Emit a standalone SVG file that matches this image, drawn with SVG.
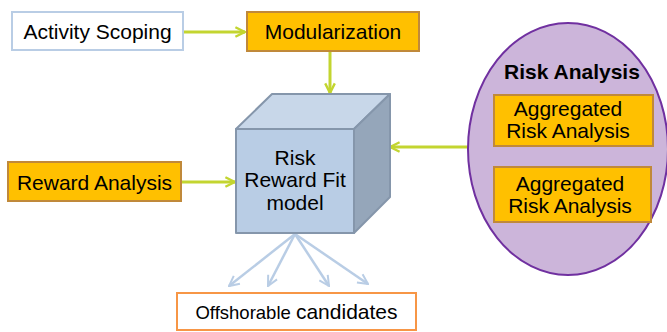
<svg xmlns="http://www.w3.org/2000/svg" width="667" height="332" viewBox="0 0 667 332">
  <style>
    text { font-family: "Liberation Sans", Arial, sans-serif; fill: #000; }
    .lbl { font-size: 21px; text-anchor: middle; }
    .orange { fill: #FFC000; stroke: #C0893A; stroke-width: 2; }
    .flow { stroke: #C3D530; stroke-width: 3; fill: none; }
    .out { stroke: #B9CDE5; stroke-width: 2.5; fill: none; }
  </style>
  <defs>
    <marker id="headGreen" viewBox="0 0 10 10" refX="9" refY="5" markerWidth="4" markerHeight="4" orient="auto" markerUnits="strokeWidth">
      <path d="M1,1 L9,5 L1,9" fill="none" stroke="#C3D530" stroke-width="2"/>
    </marker>
    <marker id="headBlue" viewBox="0 0 10 10" refX="9" refY="5" markerWidth="5" markerHeight="5" orient="auto" markerUnits="strokeWidth">
      <path d="M1,1 L9,5 L1,9" fill="none" stroke="#B9CDE5" stroke-width="1.6"/>
    </marker>
  </defs>

  <rect width="667" height="332" fill="#FFFFFF"/>

  <!-- connectors -->
  <g id="connectors">
    <line class="flow" x1="184" y1="32" x2="245" y2="32" marker-end="url(#headGreen)"/>
    <line class="flow" x1="330" y1="52" x2="330" y2="93" marker-end="url(#headGreen)"/>
    <line class="flow" x1="182" y1="182" x2="235" y2="182" marker-end="url(#headGreen)"/>
    <line class="flow" x1="468" y1="147" x2="390" y2="147" marker-end="url(#headGreen)"/>
    <line class="out" x1="295" y1="234" x2="229" y2="286" marker-end="url(#headBlue)"/>
    <line class="out" x1="295" y1="234" x2="268" y2="286" marker-end="url(#headBlue)"/>
    <line class="out" x1="295" y1="234" x2="329" y2="286" marker-end="url(#headBlue)"/>
    <line class="out" x1="295" y1="234" x2="368" y2="284" marker-end="url(#headBlue)"/>
  </g>

  <!-- scoping -->
  <g id="activity-scoping">
    <rect x="12" y="12" width="171" height="38" fill="#FFFFFF" stroke="#B9CDE5" stroke-width="2"/>
    <text class="lbl" x="97.5" y="38.5">Activity Scoping</text>
  </g>

  <g id="modularization">
    <rect class="orange" x="247" y="12" width="172" height="39"/>
    <text class="lbl" x="333" y="38.5">Modularization</text>
  </g>

  <g id="reward-analysis">
    <rect class="orange" x="8" y="162" width="173" height="39"/>
    <text class="lbl" x="94.5" y="189.5">Reward Analysis</text>
  </g>

  <!-- central cube -->
  <g id="risk-reward-fit-model" stroke="#8596AB" stroke-width="2" stroke-linejoin="round">
    <polygon points="236,129 272,94 390,94 354,129" fill="#C8D7E9"/>
    <polygon points="354,129 390,94 390,197 354,233" fill="#95A6BA"/>
    <rect x="236" y="129" width="118" height="104" fill="#B9CDE5"/>
    <g stroke="none">
      <text class="lbl" x="295" y="165" font-size="20">Risk</text>
      <text class="lbl" x="295" y="187" font-size="20">Reward Fit</text>
      <text class="lbl" x="295" y="210" font-size="20">model</text>
    </g>
  </g>

  <!-- risk analysis group -->
  <g id="risk-analysis">
    <ellipse cx="568" cy="149" rx="100" ry="126" fill="#CCB5DA" stroke="#7030A0" stroke-width="2"/>
    <text class="lbl" x="572" y="79" font-size="23" font-weight="bold">Risk Analysis</text>
  </g>

  <g id="aggregated-risk-analysis-1">
    <rect class="orange" x="494" y="95" width="159" height="51"/>
    <text class="lbl" x="568" y="116" font-size="22">Aggregated</text>
    <text class="lbl" x="568" y="138" font-size="22">Risk Analysis</text>
  </g>

  <g id="aggregated-risk-analysis-2">
    <rect class="orange" x="494" y="167" width="157" height="55"/>
    <text class="lbl" x="570" y="191" font-size="22">Aggregated</text>
    <text class="lbl" x="570" y="213" font-size="22">Risk Analysis</text>
  </g>

  <g id="offshorable-candidates">
    <rect x="177" y="293" width="239" height="37" fill="#FFFFFF" stroke="#F79646" stroke-width="2"/>
    <text x="296.5" y="319" text-anchor="middle"><tspan font-size="18.5">Offshorable </tspan><tspan font-size="21">candidates</tspan></text>
  </g>
</svg>
